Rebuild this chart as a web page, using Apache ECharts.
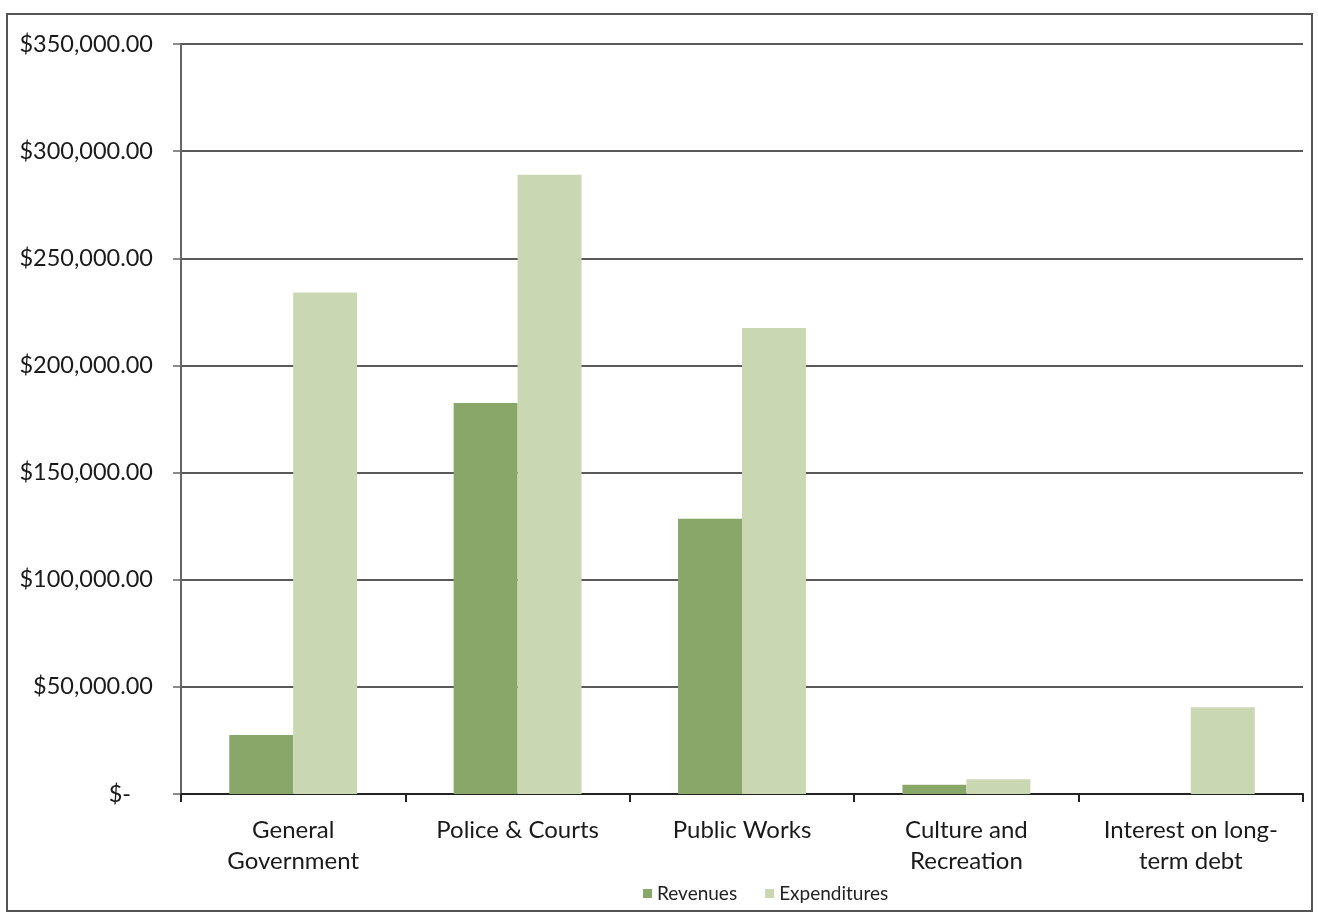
<!DOCTYPE html>
<html>
<head>
<meta charset="utf-8">
<script src="https://cdn.jsdelivr.net/npm/echarts@6/dist/echarts.min.js"></script>
<style>
html,body{margin:0;padding:0;background:#fff;}
#c{width:1318px;height:914px;}
</style>
</head>
<body>
<div id="c"></div>
<script>
const categories = ['General\nGovernment', 'Police & Courts', 'Public Works', 'Culture and\nRecreation', 'Interest on long-\nterm debt'];
const revenues = [27500, 182500, 128500, 4300, 0];
const expenditures = [234000, 289000, 217500, 6900, 40500];
const yTicks = [0, 50000, 100000, 150000, 200000, 250000, 300000, 350000];

const FONT = 'Lato, "Open Sans", sans-serif';
const chart = echarts.init(document.getElementById('c'));
function fmt(v){
  if (v === 0) return '{z|$-}';
  return '$' + v.toLocaleString('en-US', {minimumFractionDigits:2, maximumFractionDigits:2});
}
chart.setOption({
  animation:false,
  backgroundColor:'#fff',
  graphic:[{type:'rect', shape:{x:7,y:14,width:1305,height:897}, style:{fill:'none', stroke:'#555', lineWidth:2}, silent:true}],
  grid:{left:181, right:15, top:44, bottom:120, containLabel:false},
  legend:{
    bottom:6, left:638, itemWidth:9, itemHeight:9, itemGap:28,
    icon:'rect',
    textStyle:{fontFamily:FONT, fontSize:19, color:'#222'},
    data:['Revenues','Expenditures']
  },
  xAxis:{
    type:'category', data:categories,
    axisLine:{lineStyle:{color:'#222', width:2}},
    axisTick:{show:true, length:8, lineStyle:{color:'#222', width:2}},
    axisLabel:{fontFamily:FONT, fontSize:24, color:'#1a1a1a', margin:21, lineHeight:31, interval:0}
  },
  yAxis:{
    type:'value', min:yTicks[0], max:yTicks[yTicks.length-1], interval:50000,
    axisLine:{show:true, lineStyle:{color:'#666', width:2}},
    axisTick:{show:true, length:8, lineStyle:{color:'#666', width:1.5}},
    splitLine:{lineStyle:{color:'#222', width:1.6}},
    axisLabel:{fontFamily:FONT, fontSize:23.5, color:'#1a1a1a', margin:28, formatter:fmt,
      rich:{z:{fontFamily:FONT, fontSize:23.5, color:'#1a1a1a', padding:[0,22,0,0]}}}
  },
  series:[
    {name:'Revenues', type:'bar', data:revenues, barGap:'0%', barCategoryGap:'43%',
      itemStyle:{color:'#89a768'}},
    {name:'Expenditures', type:'bar', data:expenditures, barGap:'0%', barCategoryGap:'43%',
      itemStyle:{color:'#c9d7b2'}}
  ]
});
</script>
</body>
</html>
